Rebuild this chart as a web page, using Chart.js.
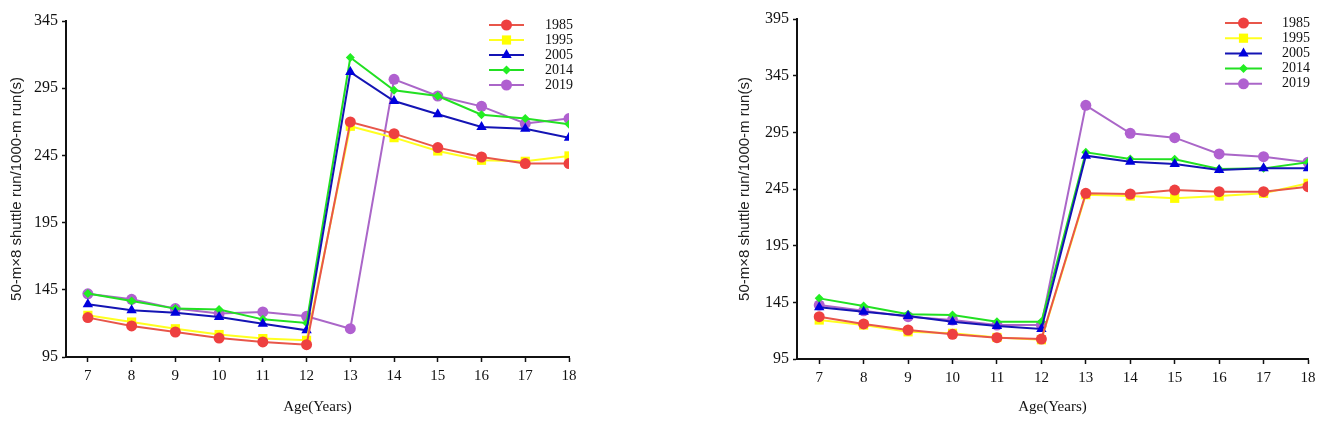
<!DOCTYPE html>
<html>
<head>
<meta charset="utf-8">
<script src="https://cdn.jsdelivr.net/npm/chart.js@4.4.0/dist/chart.umd.min.js"></script>
<style>
html,body{margin:0;padding:0;background:#fff;width:1325px;height:426px;overflow:hidden;}
#c1{position:absolute;left:0;top:0;}
#c2{position:absolute;left:662px;top:0;}
</style>
</head>
<body>
<canvas id="c1" width="662" height="426"></canvas>
<canvas id="c2" width="663" height="426"></canvas>
<script>
// ---- data ----
const ages = [7, 8, 9, 10, 11, 12, 13, 14, 15, 16, 17, 18];
const seriesNames = ['1985', '1995', '2005', '2014', '2019'];

// Left panel
const left1985 = [124.3, 118.1, 113.6, 109.1, 106.2, 104.2, 269.9, 261.2, 250.8, 243.8, 238.9, 238.9];
const left1995 = [126.0, 121.0, 116.0, 111.7, 108.7, 107.4, 266.7, 258.2, 248.3, 241.4, 240.6, 244.6];
const left2005 = [134.2, 129.7, 128.0, 124.8, 119.8, 114.9, 307.0, 285.5, 275.6, 266.1, 264.9, 258.2];
const left2014 = [142.2, 136.7, 131.0, 130.3, 123.0, 120.3, 317.8, 293.4, 289.2, 275.3, 272.4, 268.2];
const left2019 = [142.0, 137.9, 131.0, 127.3, 128.5, 125.3, 116.1, 301.6, 289.2, 281.5, 268.7, 272.4];

// Right panel
const right1985 = [132.3, 125.9, 120.6, 116.8, 113.8, 112.6, 241.2, 240.6, 244.1, 242.6, 242.6, 247.0];
const right1995 = [129.4, 125.0, 119.0, 117.7, 114.0, 112.0, 240.0, 238.8, 236.8, 238.8, 241.2, 250.0];
const right2005 = [140.6, 136.7, 132.9, 127.9, 124.1, 121.5, 274.4, 269.1, 267.1, 261.8, 263.2, 263.2];
const right2014 = [148.5, 141.8, 134.4, 133.8, 127.9, 127.9, 277.4, 271.5, 271.2, 262.6, 263.2, 268.6];
const right2019 = [142.6, 137.5, 132.3, 129.4, 125.0, 125.0, 318.8, 294.1, 290.3, 275.9, 273.5, 268.6];

const leftYTicks = [95, 145, 195, 245, 295, 345];
const rightYTicks = [95, 145, 195, 245, 295, 345, 395];

const yTitle = '50-m×8 shuttle run/1000-m run(s)';
const xTitle = 'Age(Years)';

// ---- styles ----
const styles = [
  {line: '#e8564a', fill: '#ee4040', pointStyle: 'circle', r: 5.5},
  {line: '#ffff20', fill: '#ffff00', pointStyle: 'rect', r: 6.5},
  {line: '#1414b4', fill: '#0000dd', pointStyle: 'triangle', r: 6},
  {line: '#22e022', fill: '#22ee22', pointStyle: 'rectRot', r: 4.5},
  {line: '#aa66c8', fill: '#b060d0', pointStyle: 'circle', r: 5.5}
];

function drawMarker(ctx, style, x, y, r) {
  ctx.beginPath();
  if (style === 'circle') {
    ctx.arc(x, y, r, 0, Math.PI * 2);
  } else if (style === 'rect') {
    const s = Math.SQRT1_2 * r;
    ctx.rect(x - s, y - s, 2 * s, 2 * s);
  } else if (style === 'triangle') {
    ctx.moveTo(x, y - r);
    ctx.lineTo(x + r * 0.866, y + r * 0.5);
    ctx.lineTo(x - r * 0.866, y + r * 0.5);
    ctx.closePath();
  } else if (style === 'rectRot') {
    ctx.moveTo(x, y - r);
    ctx.lineTo(x + r, y);
    ctx.lineTo(x, y + r);
    ctx.lineTo(x - r, y);
    ctx.closePath();
  }
  ctx.fill();
}

const legendPlugin = {
  id: 'customLegend',
  afterDatasetsDraw(chart, args, opts) {
    const ctx = chart.ctx;
    const area = chart.chartArea;
    ctx.save();
    chart.data.datasets.forEach((ds, i) => {
      const st = styles[i];
      const y = opts.top + i * opts.step;
      const x1 = area.right - opts.lineStart;
      const x2 = area.right - opts.lineEnd;
      ctx.strokeStyle = st.line;
      ctx.lineWidth = 2;
      ctx.beginPath();
      ctx.moveTo(x1, y);
      ctx.lineTo(x2, y);
      ctx.stroke();
      ctx.fillStyle = st.fill;
      drawMarker(ctx, st.pointStyle, (x1 + x2) / 2, y, st.r);
      ctx.fillStyle = '#111';
      ctx.font = '14px "Liberation Serif", serif';
      ctx.textBaseline = 'middle';
      ctx.textAlign = 'left';
      ctx.fillText(ds.label, area.right - opts.textOffset, y);
    });
    ctx.restore();
  }
};

function makeDatasets(arrs) {
  return arrs.map((arr, i) => ({
    label: seriesNames[i],
    data: arr.map((v, k) => ({x: ages[k], y: v})),
    borderColor: styles[i].line,
    backgroundColor: styles[i].fill,
    pointBackgroundColor: styles[i].fill,
    pointBorderColor: styles[i].fill,
    pointBorderWidth: 0,
    pointStyle: styles[i].pointStyle,
    pointRadius: styles[i].r,
    borderWidth: 2,
    tension: 0,
    order: i
  }));
}

function makeChart(canvasId, arrs, yTicks, cfg) {
  return new Chart(document.getElementById(canvasId), {
    type: 'line',
    data: {datasets: makeDatasets(arrs)},
    options: {
      responsive: false,
      animation: false,
      devicePixelRatio: 1,
      layout: {padding: cfg.padding},
      plugins: {
        legend: {display: false},
        tooltip: {enabled: false},
        customLegend: cfg.legend
      },
      scales: {
        x: {
          type: 'linear',
          min: 6.5,
          max: 18,
          afterBuildTicks: s => { s.ticks = ages.map(v => ({value: v})); },
          afterFit: s => { s.height = cfg.xHeight; },
          border: {display: true, color: '#111', width: 2},
          grid: {display: true, drawOnChartArea: false, drawTicks: true, tickLength: 5, tickColor: '#111', tickWidth: 1.5},
          ticks: {color: '#111', font: {family: '"Liberation Serif", serif', size: 15}, padding: 5, autoSkip: false, maxRotation: 0},
          title: {display: true, text: xTitle, color: '#111', font: {family: '"Liberation Serif", serif', size: 15}, padding: {top: 0, bottom: 10}}
        },
        y: {
          type: 'linear',
          min: yTicks[0],
          max: yTicks[yTicks.length - 1],
          afterBuildTicks: s => { s.ticks = yTicks.map(v => ({value: v})); },
          afterFit: s => { s.width = cfg.yWidth; },
          border: {display: true, color: '#111', width: 2},
          grid: {display: true, drawOnChartArea: false, drawTicks: true, tickLength: 4, tickColor: '#111', tickWidth: 1.5},
          ticks: {color: '#111', font: {family: '"Liberation Serif", serif', size: 16}, padding: 4},
          title: {display: true, text: yTitle, color: '#222', font: {family: '"Liberation Sans", Arial, sans-serif', size: 15}, padding: {top: cfg.yTitlePad, bottom: 0}}
        }
      }
    },
    plugins: [legendPlugin]
  });
}

makeChart('c1', [left1985, left1995, left2005, left2014, left2019], leftYTicks, {
  padding: {left: 0, top: 21, right: 93, bottom: 0},
  yWidth: 66,
  xHeight: 69,
  yTitlePad: 8,
  legend: {top: 25, step: 15, lineStart: 80, lineEnd: 45, textOffset: 24}
});

makeChart('c2', [right1985, right1995, right2005, right2014, right2019], rightYTicks, {
  padding: {left: 66, top: 19, right: 17, bottom: 0},
  yWidth: 69,
  xHeight: 67,
  yTitlePad: 8,
  legend: {top: 23, step: 15.2, lineStart: 83, lineEnd: 46, textOffset: 26}
});
</script>
</body>
</html>
